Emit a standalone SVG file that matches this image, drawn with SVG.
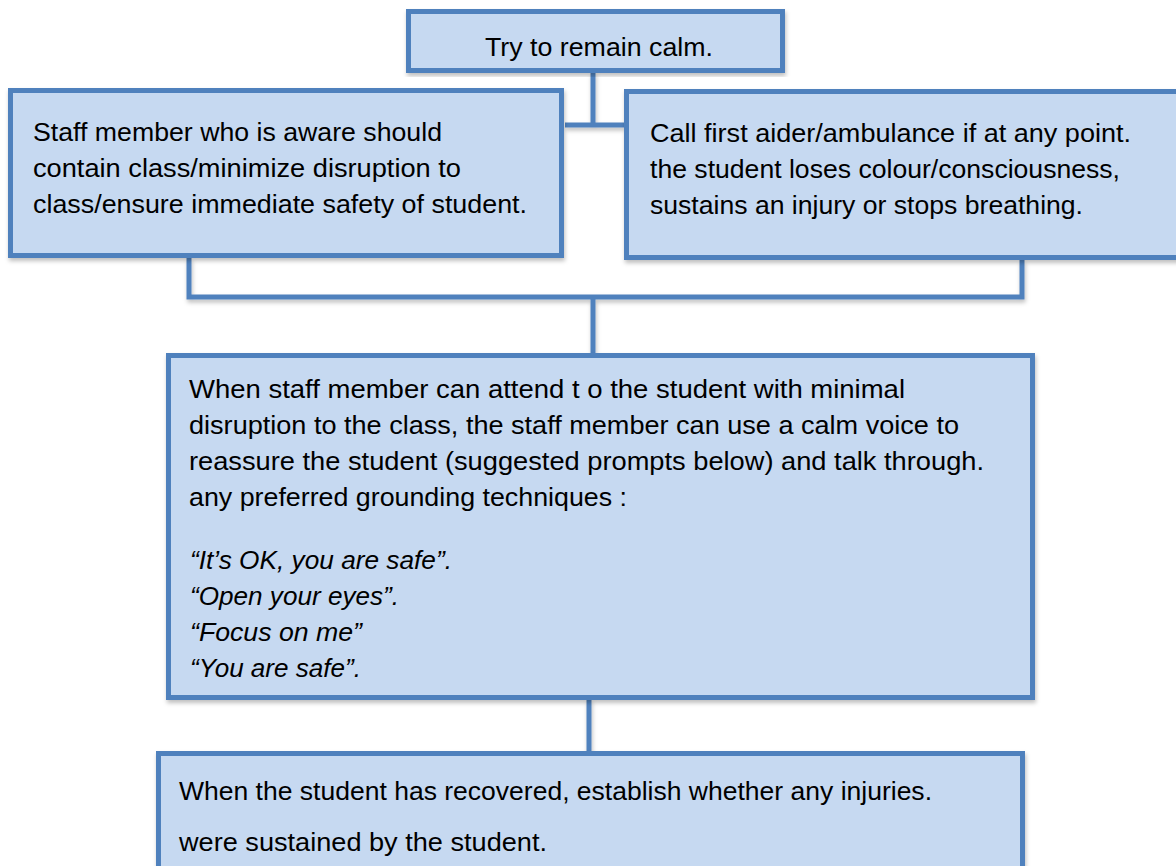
<svg xmlns="http://www.w3.org/2000/svg" width="1176" height="866" viewBox="0 0 1176 866">
<defs>
<style>
.box{fill:#c6d9f1;stroke:#4f81bd;stroke-width:5;}
.conn{fill:none;stroke:#4f81bd;stroke-width:5;}
.t{font-family:"Liberation Sans",Arial,sans-serif;font-size:25px;fill:#000;}
.i{font-style:italic;font-size:26px;}
</style>
<filter id="sh" x="-5%" y="-5%" width="110%" height="115%">
<feDropShadow dx="1" dy="3" stdDeviation="2" flood-color="#000" flood-opacity="0.25"/>
</filter>
</defs>
<rect width="1176" height="866" fill="#fff"/>
<g id="connectors" filter="url(#sh)">
<path class="conn" d="M593 72 V125 M565 125 H624"/>
<path class="conn" d="M189 258 V297 H1022 V260 M593 297 V353"/>
<path class="conn" d="M589 699 V752"/>
</g>
<g id="n1">
<rect class="box" x="408.5" y="11.5" width="374" height="59" filter="url(#sh)"/>
<text class="t" x="485" y="56" textLength="228" lengthAdjust="spacingAndGlyphs">Try to remain calm.</text>
</g>
<g id="n2">
<rect class="box" x="10.5" y="90.5" width="551" height="165" filter="url(#sh)"/>
<text class="t" x="33" y="141" textLength="409" lengthAdjust="spacingAndGlyphs">Staff member who is aware should</text>
<text class="t" x="33" y="177" textLength="428" lengthAdjust="spacingAndGlyphs">contain class/minimize disruption to</text>
<text class="t" x="33" y="213" textLength="494" lengthAdjust="spacingAndGlyphs">class/ensure immediate safety of student.</text>
</g>
<g id="n3">
<rect class="box" x="626.5" y="91.5" width="560" height="166" filter="url(#sh)"/>
<text class="t" x="650" y="142" textLength="481" lengthAdjust="spacingAndGlyphs">Call first aider/ambulance if at any point.</text>
<text class="t" x="650" y="178" textLength="470" lengthAdjust="spacingAndGlyphs">the student loses colour/consciousness,</text>
<text class="t" x="650" y="214" textLength="433" lengthAdjust="spacingAndGlyphs">sustains an injury or stops breathing.</text>
</g>
<g id="n4">
<rect class="box" x="168.5" y="355.5" width="864" height="342" filter="url(#sh)"/>
<text class="t" x="189" y="398" textLength="716" lengthAdjust="spacingAndGlyphs">When staff member can attend t o the student with minimal</text>
<text class="t" x="189" y="434" textLength="770" lengthAdjust="spacingAndGlyphs">disruption to the class, the staff member can use a calm voice to</text>
<text class="t" x="189" y="470" textLength="795" lengthAdjust="spacingAndGlyphs">reassure the student (suggested prompts below) and talk through.</text>
<text class="t" x="189" y="506" textLength="438" lengthAdjust="spacingAndGlyphs">any preferred grounding techniques :</text>
<text class="t i" x="190" y="569" textLength="262" lengthAdjust="spacingAndGlyphs">“It’s OK, you are safe”.</text>
<text class="t i" x="190" y="605" textLength="209" lengthAdjust="spacingAndGlyphs">“Open your eyes”.</text>
<text class="t i" x="190" y="641" textLength="172" lengthAdjust="spacingAndGlyphs">“Focus on me”</text>
<text class="t i" x="190" y="677" textLength="171" lengthAdjust="spacingAndGlyphs">“You are safe”.</text>
</g>
<g id="n5">
<rect class="box" x="158.5" y="753.5" width="864" height="130" filter="url(#sh)"/>
<text class="t" x="179" y="800" textLength="753" lengthAdjust="spacingAndGlyphs">When the student has recovered, establish whether any injuries.</text>
<text class="t" x="179" y="851" textLength="368" lengthAdjust="spacingAndGlyphs">were sustained by the student.</text>
</g>
</svg>
